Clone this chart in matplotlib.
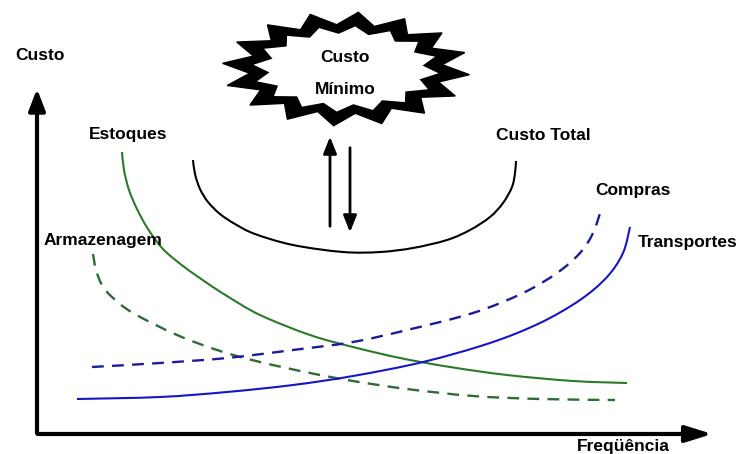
import matplotlib.pyplot as plt
import numpy as np
from matplotlib.patches import Polygon, FancyArrowPatch, PathPatch
from matplotlib.path import Path

plt.rcParams['font.family'] = ['Liberation Sans', 'DejaVu Sans']

# curves (pixel units, y grows downward)
estoques_x = [122, 124, 129, 137, 148, 163, 183, 207, 227, 260, 310, 353, 400, 450, 507, 573, 627]
estoques_y = [152, 170, 190, 209, 229, 249, 266, 283, 296, 315, 335, 347, 358, 367, 375, 381, 383]

armaz_x = [93, 96, 102, 112, 133, 177, 220, 260, 310, 353, 407, 473, 540, 615]
armaz_y = [254, 270, 285, 297, 313, 335, 351, 362, 373, 381, 389, 396, 399, 400]

compras_x = [92, 160, 227, 293, 353, 407, 473, 523, 557, 580, 593, 602]
compras_y = [367, 363, 358, 350, 342, 330, 313, 293, 273, 253, 233, 207]

transp_x = [77, 160, 227, 293, 353, 423, 490, 540, 580, 607, 623, 630]
transp_y = [399, 397, 392, 385, 376, 362, 343, 323, 300, 277, 253, 227]

total_x = [193, 195, 200, 208, 220, 235, 255, 293, 343, 380, 413, 447, 470, 490, 503, 512, 515, 516]
total_y = [160, 174, 189, 202, 214, 224, 234, 245, 252, 252, 248, 240, 230, 217, 203, 187, 173, 161]

labels = ['Custo', 'Estoques', 'Custo Total', 'Compras', 'Transportes', 'Armazenagem', 'Freqüência']
label_x = [40, 128, 543, 633, 688, 103, 623]
label_y = [55, 135, 135, 190, 242, 240, 447]

green = '#2a7a2a'
dgreen = '#2f6b35'
blue = '#1616c8'
dblue = '#1c1c9a'


def smooth_path(xs, ys):
    # catmull-rom through the read points, drawn as cubic bezier segments
    p = np.column_stack([xs, ys]).astype(float)
    verts = [p[0]]
    codes = [Path.MOVETO]
    for i in range(len(p) - 1):
        p0 = p[i - 1] if i > 0 else p[i]
        p1, p2 = p[i], p[i + 1]
        p3 = p[i + 2] if i + 2 < len(p) else p[i + 1]
        verts += [p1 + (p2 - p0) / 6, p2 - (p3 - p1) / 6, p2]
        codes += [Path.CURVE4] * 3
    return Path(verts, codes)


def draw_curve(ax, xs, ys, **kw):
    ax.add_patch(PathPatch(smooth_path(xs, ys), fill=False, capstyle='butt', **kw))


fig = plt.figure(figsize=(7.43, 4.54), dpi=100)
ax = fig.add_axes([0, 0, 1, 1])
ax.set_xlim(0, 743)
ax.set_ylim(454, 0)
ax.axis('off')

draw_curve(ax, estoques_x, estoques_y, edgecolor=green, lw=1.5)
draw_curve(ax, armaz_x, armaz_y, edgecolor=dgreen, lw=1.7, ls=(0, (5, 3.5)))
draw_curve(ax, compras_x, compras_y, edgecolor=dblue, lw=1.7, ls=(0, (5, 3.5)))
draw_curve(ax, transp_x, transp_y, edgecolor=blue, lw=1.5)
draw_curve(ax, total_x, total_y, edgecolor='black', lw=1.5)

# axes arrows
ax.add_patch(FancyArrowPatch((37, 436), (37, 86), arrowstyle='-|>,head_length=13,head_width=5',
                             color='black', lw=3, mutation_scale=1))
ax.add_patch(FancyArrowPatch((35, 434), (715, 434), arrowstyle='-|>,head_length=16,head_width=5',
                             color='black', lw=3, mutation_scale=1))

# up / down arrows
ax.add_patch(FancyArrowPatch((330, 229), (330, 134), arrowstyle='-|>,head_length=10,head_width=4',
                             color='black', lw=2, mutation_scale=1))
ax.add_patch(FancyArrowPatch((350, 145), (350, 235), arrowstyle='-|>,head_length=10,head_width=4',
                             color='black', lw=2, mutation_scale=1))

# starburst
n = 16
k = np.arange(2 * n)
ang = np.linspace(0, 2 * np.pi, 2 * n, endpoint=False) + 0.1
cx, cy = 346, 69
r_out = np.where(k % 2 == 0, 1.0, 0.78)
r_in = np.where(k % 2 == 0, 0.75, 0.62)
outer = np.column_stack([cx + 124 * r_out * np.cos(ang), cy + 57 * r_out * np.sin(ang)])
inner = np.column_stack([cx + 124 * r_in * np.cos(ang), cy + 57 * r_in * np.sin(ang)])
ax.add_patch(Polygon(outer, closed=True, facecolor='black', edgecolor='black', lw=1))
ax.add_patch(Polygon(inner, closed=True, facecolor='white', edgecolor='white', lw=0))
ax.text(345, 57, 'Custo', ha='center', va='center', fontsize=12.5, fontweight='bold')
ax.text(345, 89, 'Mínimo', ha='center', va='center', fontsize=12.5, fontweight='bold')

for t, x, y in zip(labels, label_x, label_y):
    ax.text(x, y, t, ha='center', va='center', fontsize=12.5, fontweight='bold')

fig.savefig('out.png', dpi=100)
